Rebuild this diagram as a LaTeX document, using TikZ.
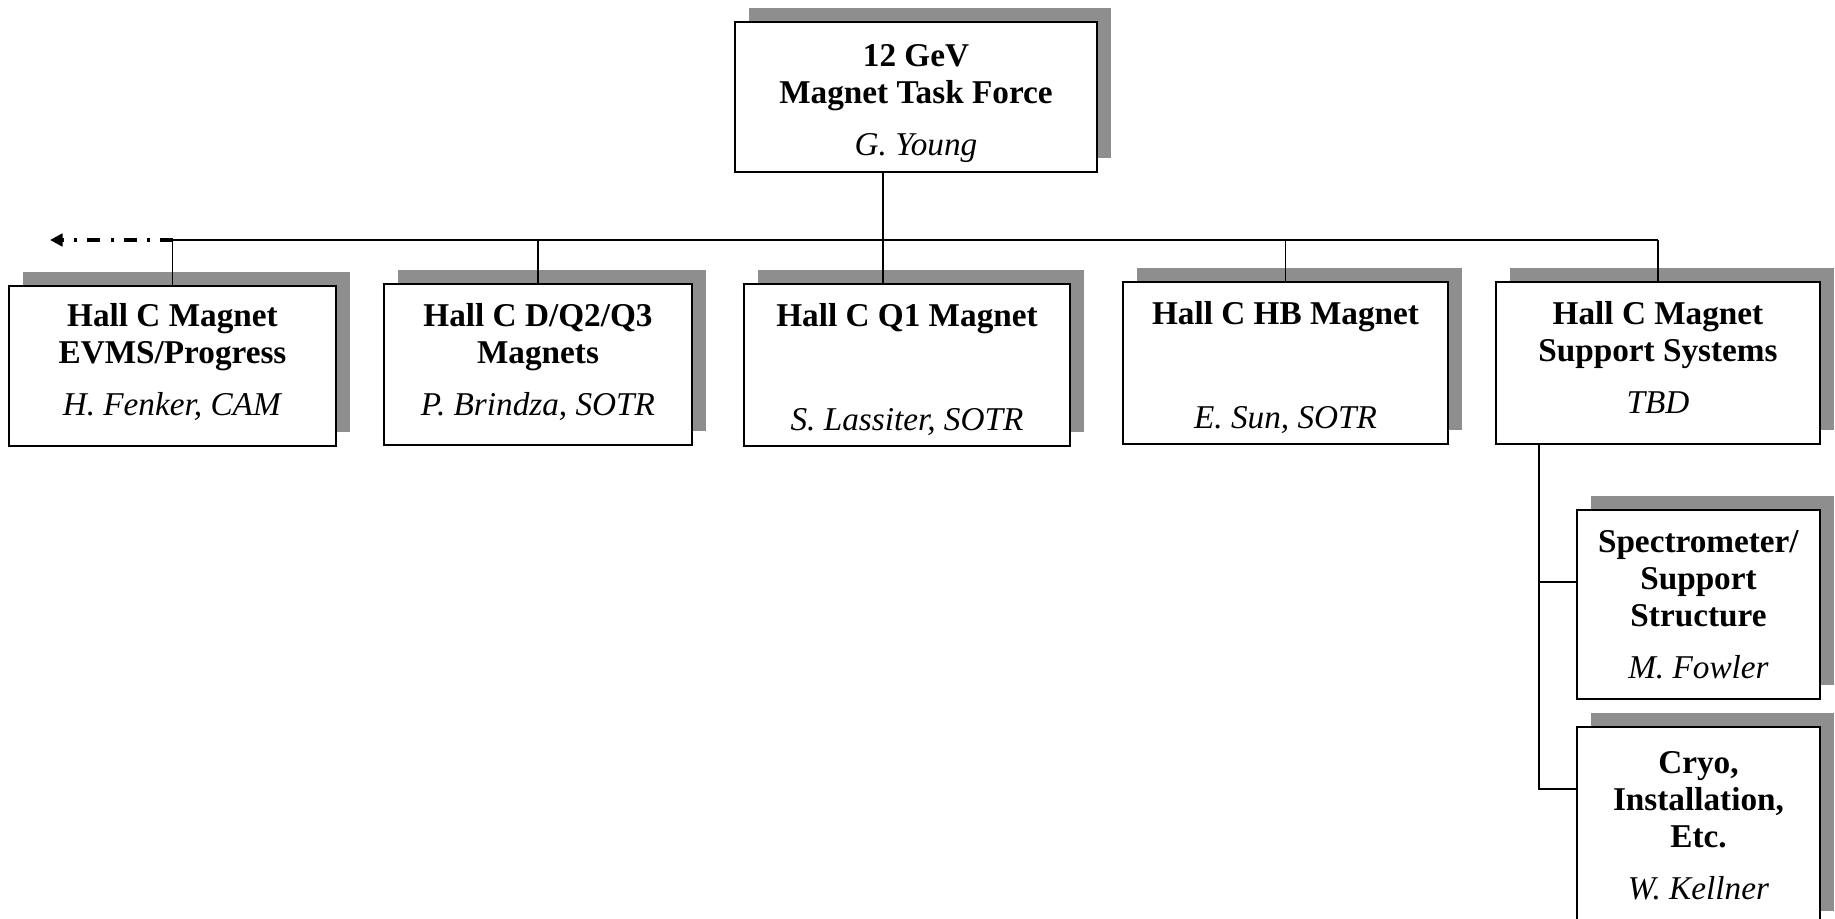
\documentclass[tikz,border=0pt]{standalone}
\usepackage{fontspec}
\setmainfont{Liberation Serif}
\usetikzlibrary{shadows,arrows.meta}
\definecolor{shade}{RGB}{142,142,142}
\newcommand{\padtop}[1]{\rule{0pt}{#1}}
\newcommand{\padbot}[1]{\rule[-#1]{0pt}{#1}}

\begin{document}
\begin{tikzpicture}[x=0.4pt, y=-0.4pt,
  box/.style={draw, line width=0.8pt, fill=white, align=center, inner sep=0pt,
    font=\fontsize{13.3}{14.8}\selectfont,
    drop shadow={shadow xshift=5.6pt, shadow yshift=5.6pt, opacity=1, fill=shade, draw=none}},
  link/.style={line width=0.6pt}]
  \useasboundingbox (0,0) rectangle (1835,919);

  \node[box, minimum width=144.8pt, minimum height=60pt] (force) at (916,97)
    {\padtop{14pt}\textbf{12 GeV}\\\textbf{Magnet Task Force}\\[6pt]\textit{G. Young}};

  \node[box, minimum width=130.8pt, minimum height=64pt] (evms) at (172.5,366)
    {\textbf{Hall C Magnet}\\\textbf{EVMS/Progress}\\[6pt]\textit{H. Fenker, CAM}\padbot{5.2pt}};
  \node[box, minimum width=123.2pt, minimum height=64.4pt] (dq) at (538,364.5)
    {\textbf{Hall C D/Q2/Q3}\\\textbf{Magnets}\\[6pt]\textit{P. Brindza, SOTR}\padbot{3.8pt}};
  \node[box, minimum width=130.4pt, minimum height=64.8pt] (qone) at (907,365)
    {\padtop{12.8pt}\textbf{Hall C Q1 Magnet}\\[27pt]\textit{S. Lassiter, SOTR}};
  \node[box, minimum width=130pt, minimum height=64.8pt] (hb) at (1285.5,363)
    {\padtop{13pt}\textbf{Hall C HB Magnet}\\[27pt]\textit{E. Sun, SOTR}};
  \node[box, minimum width=129.6pt, minimum height=64.8pt] (supp) at (1658,363)
    {\textbf{Hall C Magnet}\\\textbf{Support Systems}\\[6pt]\textit{TBD}\padbot{4.2pt}};

  \node[box, minimum width=97.2pt, minimum height=75.6pt] (spec) at (1698.5,604.5)
    {\textbf{Spectrometer/}\\\textbf{Support}\\\textbf{Structure}\\[6pt]\textit{M. Fowler}};
  \node[box, minimum width=97.2pt, minimum height=79.2pt] (cryo) at (1698.5,826)
    {\textbf{Cryo,}\\\textbf{Installation,}\\\textbf{Etc.}\\[6pt]\textit{W. Kellner}};

  \coordinate (bus) at (0,240);
  \coordinate (prev) at (50,240);
  \draw[link] ([xshift=-13.2pt]force.south) -- ([xshift=-13.2pt]force.south |- qone.north);
  \draw[link] (evms.north |- bus) -- (supp.north |- bus);
  \foreach \n in {evms,dq,hb,supp}
    \draw[link] (\n.north) -- (\n.north |- bus);
  \draw[line width=1.3pt, dash pattern=on 5.2pt off 4pt on 1.2pt off 4pt,
    -{Triangle[length=5pt,width=5pt]}] (evms.north |- bus) -- (prev);
  \draw[link] ([xshift=17.6pt]supp.south west) coordinate (drop) |- ([yshift=-25.2pt]cryo.north west);
  \draw[link] ([yshift=9pt]spec.west) -- ([yshift=9pt]spec.west -| drop);
\end{tikzpicture}
\end{document}
